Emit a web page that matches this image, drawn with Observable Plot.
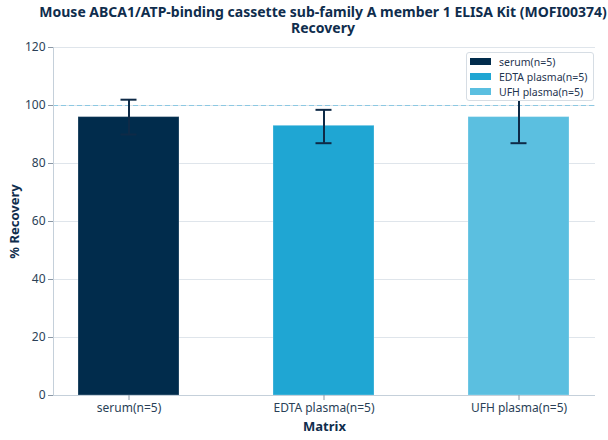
<!DOCTYPE html>
<html><head><meta charset="utf-8">
<script src="https://cdn.jsdelivr.net/npm/d3@7"></script>
<script src="https://cdn.jsdelivr.net/npm/@observablehq/plot@0.6"></script>
<style>
body{margin:0;background:#fff;font-family:"Noto Sans",sans-serif;}
#wrap{position:relative;width:608px;height:440px;}
#title{position:absolute;left:19px;top:4px;width:608px;text-align:center;font-weight:bold;font-size:14px;color:#0f2d4d;white-space:nowrap;}
#title div{line-height:16px;height:16px;}
#chart{position:absolute;left:0;top:0;}
#legend{position:absolute;left:466px;top:52px;width:126px;border:1px solid #d6dde4;border-radius:3px;background:#fff;padding:1px 0 1px 0;font-size:10.5px;color:#1f3550;}
#legend div{display:flex;align-items:center;height:15px;padding-left:3px;}
#legend span.sw{display:inline-block;width:21px;height:7px;margin-right:8px;}
</style></head>
<body><div id="wrap"><div id="chart"></div><div id="title"><div>Mouse ABCA1/ATP-binding cassette sub-family A member 1 ELISA Kit (MOFI00374)</div><div>Recovery</div></div><div id="legend"></div></div>
<script>
const categories = ["serum(n=5)", "EDTA plasma(n=5)", "UFH plasma(n=5)"];
const recovery = [96, 93, 96];
const errLow = [90, 87, 87];
const errHigh = [102, 98.5, 105];
const colors = ["#012c4c", "#1fa6d3", "#5bbfe0"];
const yTicks = [0, 20, 40, 60, 80, 100, 120];

const data = categories.map((c, i) => ({cat: c, v: recovery[i], lo: errLow[i], hi: errHigh[i]}));

const chart = Plot.plot({
  width: 608, height: 440,
  marginLeft: 53, marginRight: 13, marginTop: 47, marginBottom: 45,
  style: {fontFamily: "Noto Sans", fontSize: "12px", color: "#1f3550", background: "transparent"},
  x: {domain: categories, range: [30.25, 616.75], paddingInner: 0.483, paddingOuter: 0.2415, label: null},
  y: {domain: [0, 120], ticks: yTicks, label: null},
  color: {domain: categories, range: colors},
  marks: [
    Plot.gridY(yTicks, {stroke: "#dfe5eb", strokeOpacity: 1}),
    Plot.ruleY([100], {stroke: "#8cc8e2", strokeDasharray: "5,3", strokeWidth: 1}),
    Plot.barY(data, {x: "cat", y: "v", fill: "cat", stroke: "#ffffff", strokeOpacity: 0.25, strokeWidth: 1}),
    Plot.ruleX(data, {x: "cat", y1: "lo", y2: "hi", stroke: "#0e2a47", strokeWidth: 2}),
    Plot.tickY(data, {x: "cat", y: "lo", stroke: "#0e2a47", strokeWidth: 2, inset: 42.5}),
    Plot.tickY(data, {x: "cat", y: "hi", stroke: "#0e2a47", strokeWidth: 2, inset: 42.5}),
    Plot.ruleY([0], {stroke: "#c5d0da"}),
    Plot.frame({anchor: "left", stroke: "#c5d0da"}),
    Plot.axisY({ticks: yTicks, tickSize: 5, stroke: "#8a97a5", fill: "#2a3f57", fontSize: 12, tickPadding: 3, label: "% Recovery", labelAnchor: "center", labelArrow: "none", labelOffset: 44}),
    Plot.axisX({tickSize: 5, stroke: "#8a97a5", fill: "#2a3f57", fontSize: 12, tickPadding: 3, label: "Matrix", labelAnchor: "center", labelArrow: "none", labelOffset: 35})
  ]
});
document.getElementById("chart").appendChild(chart);
chart.querySelectorAll("g[aria-label='y-axis label'] text, g[aria-label='x-axis label'] text").forEach(t => {
  t.style.fontWeight = "bold"; t.style.fontSize = "13px"; t.setAttribute("fill", "#0f2d4d");
});
const leg = document.getElementById("legend");
categories.forEach((c, i) => {
  const d = document.createElement("div");
  d.innerHTML = `<span class="sw" style="background:${colors[i]}"></span>${c}`;
  leg.appendChild(d);
});
</script></body></html>
